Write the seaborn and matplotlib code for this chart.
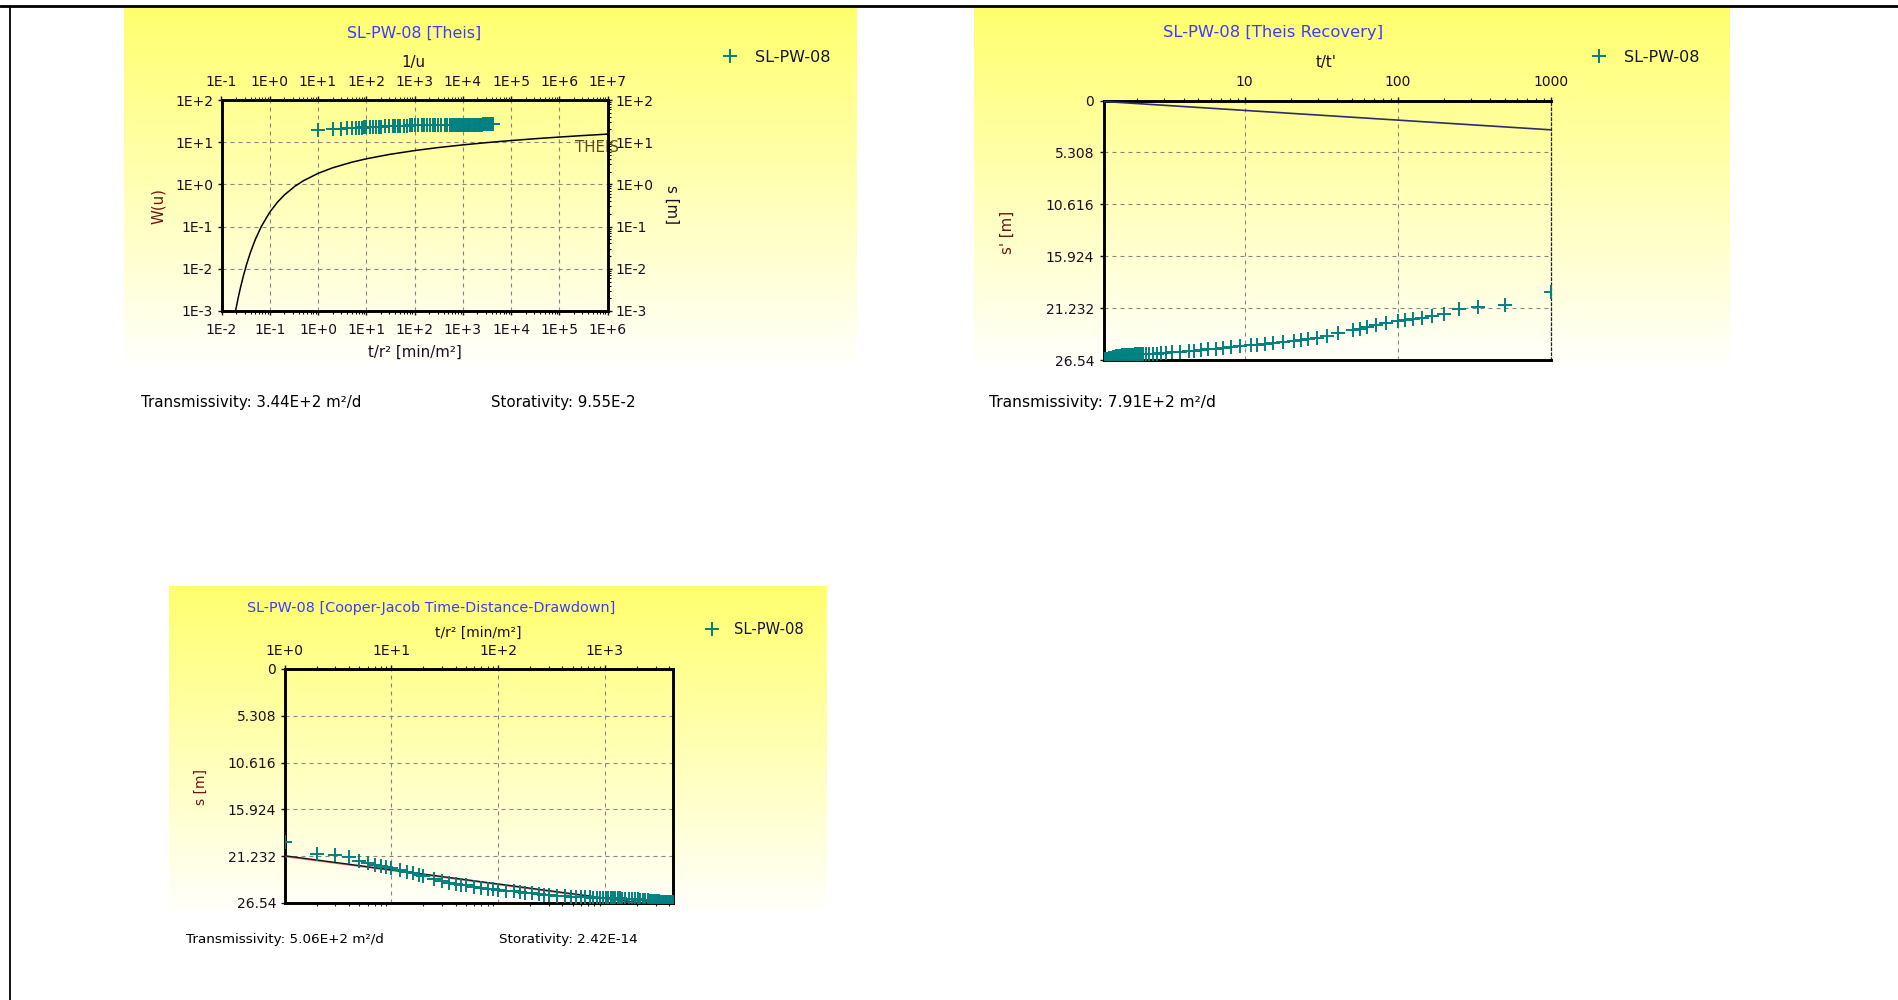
import numpy as np
import matplotlib
matplotlib.use("Agg")
import matplotlib.pyplot as plt
from matplotlib.lines import Line2D
from matplotlib.ticker import FixedLocator, NullFormatter, LogLocator
import seaborn as sns

# ---------------------------------------------------------------- data
# pumping test SL-PW-08: elapsed time over r^2 [min/m^2] and drawdown [m]
t_over_r2 = [1, 2, 3, 4, 5, 6, 7, 8, 9, 10,
             12, 14, 16, 18, 20, 25, 30, 35, 40, 45,
             50, 60, 70, 80, 90, 100, 120, 140, 160, 180,
             210, 240, 270, 300, 360, 420, 480, 540, 600, 660,
             720, 780, 840, 900, 960, 1020, 1080, 1140, 1200, 1260,
             1320, 1380, 1440, 1560, 1680, 1800, 1920, 2040, 2160, 2280,
             2400, 2520, 2640, 2760, 2880, 3000, 3120, 3240, 3360, 3480,
             3600, 3720, 3840, 3960, 4080, 4200, 4320]
drawdown = [19.63, 20.95, 21.10, 21.33, 21.80, 22.00, 22.20, 22.30, 22.46, 22.55,
            22.80, 23.00, 23.15, 23.35, 23.45, 23.80, 24.05, 24.25, 24.35, 24.45,
            24.55, 24.70, 24.85, 24.92, 24.98, 25.05, 25.15, 25.22, 25.30, 25.38,
            25.45, 25.52, 25.58, 25.62, 25.70, 25.76, 25.82, 25.85, 25.88, 25.90,
            25.91, 25.92, 25.93, 25.94, 25.95, 25.96, 25.97, 25.98, 25.99, 26.00,
            26.01, 26.02, 26.03, 26.05, 26.07, 26.09, 26.11, 26.13, 26.16, 26.19,
            26.22, 26.25, 26.27, 26.29, 26.31, 26.33, 26.34, 26.36, 26.37, 26.39,
            26.40, 26.41, 26.42, 26.43, 26.44, 26.45, 26.46]
# recovery ratio t/t' for the same readings
t_over_tprime = [1000, 500.5, 334, 250.8, 200.8, 167.5, 143.7, 125.9, 112, 100.9,
                 84.3, 72.4, 63.4, 56.5, 51.0, 41.0, 34.3, 29.5, 26.0, 23.2,
                 21.0, 17.7, 15.3, 13.5, 12.1, 11.0, 9.33, 8.14, 7.24, 6.55,
                 5.76, 5.16, 4.70, 4.33, 3.78, 3.38, 3.08, 2.85, 2.67, 2.51,
                 2.39, 2.28, 2.19, 2.11, 2.04, 1.98, 1.93, 1.88, 1.83, 1.79,
                 1.76, 1.72, 1.69, 1.64, 1.59, 1.555, 1.52, 1.49, 1.46, 1.44,
                 1.42, 1.40, 1.38, 1.36, 1.35, 1.33, 1.32, 1.31, 1.30, 1.287,
                 1.28, 1.27, 1.26, 1.25, 1.245, 1.238, 1.231]

# Theis type curve W(u) against 1/u
inv_u = [0.19, 0.2, 0.222, 0.25, 0.286, 0.333, 0.4, 0.5, 0.667, 1, 1.43, 2, 3.33, 5,
         10, 20, 50, 100, 300, 1000, 3000, 1e4, 3e4, 1e5, 3e5, 1e6, 3e6, 1e7]
w_u = [0.00087, 0.00115, 0.00207, 0.00378, 0.00697, 0.01305, 0.0249, 0.0489, 0.100,
       0.219, 0.374, 0.560, 0.906, 1.223, 1.823, 2.468, 3.355, 4.038, 5.127, 6.332,
       7.43, 8.633, 9.73, 10.94, 12.04, 13.24, 14.34, 15.54]

# fitted straight lines
recovery_fit_x = [1.21, 1000]
recovery_fit_y = [0.10, 3.00]
cj_fit_x = [1, 4320]
cj_fit_y = [21.18, 26.99]
cj_fit_alt_y = [21.26, 27.07]

theis_xticks = [1e-2, 1e-1, 1e0, 1e1, 1e2, 1e3, 1e4, 1e5, 1e6]
theis_xlabels = ["1E-2", "1E-1", "1E+0", "1E+1", "1E+2", "1E+3", "1E+4", "1E+5", "1E+6"]
theis_top_ticks = [1e-1, 1e0, 1e1, 1e2, 1e3, 1e4, 1e5, 1e6, 1e7]
theis_top_labels = ["1E-1", "1E+0", "1E+1", "1E+2", "1E+3", "1E+4", "1E+5", "1E+6", "1E+7"]
theis_yticks = [1e-3, 1e-2, 1e-1, 1e0, 1e1, 1e2]
theis_ylabels = ["1E-3", "1E-2", "1E-1", "1E+0", "1E+1", "1E+2"]
s_ticks = [0, 5.308, 10.616, 15.924, 21.232, 26.54]
s_labels = ["0", "5.308", "10.616", "15.924", "21.232", "26.54"]
recovery_xticks = [10, 100, 1000]
recovery_xlabels = ["10", "100", "1000"]
cj_xticks = [1, 10, 100, 1000]
cj_xlabels = ["1E+0", "1E+1", "1E+2", "1E+3"]

# ---------------------------------------------------------------- style
sns.set_style("white")
plt.rcParams["font.family"] = ["DejaVu Sans"]

W_PX, H_PX = 1898, 1000
TEAL = "#008080"
TICK_C = "#1e0c1e"
TITLE_C = "#3c3cff"
YLAB_C = "#6e1414"
GRID_KW = dict(color="#858585", linewidth=0.8, linestyle=(0, (3.6, 3.6)))
FS_TICK = 10
FS_TEXT = 10.8
FS_LEG = 11.5
SPINE_W = 2.1

fig = plt.figure(figsize=(W_PX / 100, H_PX / 100), dpi=100)
fig.patch.set_facecolor("white")


def fx(x):
    return x / W_PX


def fy(y):
    return 1 - y / H_PX


def box(x0, y0, x1, y1):
    return [fx(x0), fy(y1), (x1 - x0) / W_PX, (y1 - y0) / H_PX]


def panel_background(x0, y0, x1, y1):
    bg = fig.add_axes(box(x0, y0, x1, y1), zorder=0)
    frac = np.linspace(0, 1, 256)[:, None, None]
    top = np.array([1.0, 1.0, 0.43])
    bottom = np.array([1.0, 1.0, 0.985])
    bg.imshow(top + (bottom - top) * frac, aspect="auto", extent=[0, 1, 0, 1],
              interpolation="bilinear")
    bg.axis("off")


def text(x, y, s, **kw):
    kw.setdefault("fontsize", FS_TEXT)
    kw.setdefault("color", "black")
    fig.text(fx(x), fy(y), s, **kw)


def style_spines(ax, right_style="solid"):
    for side in ("left", "bottom", "top"):
        ax.spines[side].set_linewidth(SPINE_W)
        ax.spines[side].set_color("black")
    if right_style == "solid":
        ax.spines["right"].set_linewidth(SPINE_W)
        ax.spines["right"].set_color("black")
    else:
        ax.spines["right"].set_linewidth(0.9)
        ax.spines["right"].set_color("#202020")
        ax.spines["right"].set_linestyle((0, (2, 2)))


def legend_at(ax, handle, x, y, size=FS_LEG, gap=1.05):
    ax.legend([handle], ["SL-PW-08"], loc="center left",
              bbox_to_anchor=(fx(x), fy(y)), bbox_transform=fig.transFigure,
              frameon=False, handlelength=1.0, handletextpad=gap, borderpad=0,
              borderaxespad=0, fontsize=size, labelcolor="#141430")


plus_handle = Line2D([], [], marker="+", linestyle="", color=TEAL,
                     markersize=9.4, markeredgewidth=1.4)

# ---------------------------------------------------------------- panel 1: Theis
panel_background(124, 8, 857, 363)
ax1 = fig.add_axes(box(221.5, 100, 607.5, 311), zorder=1)
ax1.patch.set_alpha(0)
ax1.set_xscale("log")
ax1.set_yscale("log")
ax1.set_xlim(1e-2, 1e6)
ax1.set_ylim(1e-3, 1e2)
ax1.set_axisbelow(True)
ax1.grid(True, which="major", **GRID_KW)
sns.scatterplot(x=t_over_r2, y=drawdown, marker="+", s=92, linewidth=1.4,
                color=TEAL, ax=ax1, legend=False, zorder=3)
ax1.xaxis.set_major_locator(FixedLocator(theis_xticks))
ax1.set_xticklabels(theis_xlabels)
ax1.yaxis.set_major_locator(FixedLocator(theis_yticks))
ax1.set_yticklabels(theis_ylabels)
ax1.xaxis.set_minor_locator(LogLocator(base=10, subs=np.arange(2, 10), numticks=20))
ax1.yaxis.set_minor_locator(LogLocator(base=10, subs=np.arange(2, 10), numticks=20))
ax1.xaxis.set_minor_formatter(NullFormatter())
ax1.yaxis.set_minor_formatter(NullFormatter())
ax1.tick_params(axis="x", which="major", direction="out", length=3, width=1,
                pad=6, labelsize=FS_TICK, colors=TICK_C)
ax1.tick_params(axis="y", which="major", direction="out", length=3, width=1,
                left=True, right=True, labelleft=True, labelright=True,
                pad=3, labelsize=FS_TICK, colors=TICK_C)
ax1.tick_params(which="minor", direction="out", length=2, width=0.8, colors="black",
                left=False, right=True)
ax1.set_xlabel("")
ax1.set_ylabel("")
style_spines(ax1)
ax1.text(fx(575), fy(147), "THEIS", transform=fig.transFigure, fontsize=FS_TEXT,
         color="#5c4a1e", va="center", ha="left", zorder=2, clip_on=False)

ax1t = ax1.twiny()
ax1t.set_xscale("log")
ax1t.set_xlim(1e-1, 1e7)
ax1t.patch.set_alpha(0)
for sp in ax1t.spines.values():
    sp.set_visible(False)
sns.lineplot(x=inv_u, y=w_u, color="black", linewidth=1.1, ax=ax1t,
             estimator=None, sort=False)
ax1t.set_ylim(1e-3, 1e2)
ax1t.xaxis.set_major_locator(FixedLocator(theis_top_ticks))
ax1t.set_xticklabels(theis_top_labels)
ax1t.xaxis.set_minor_locator(LogLocator(base=10, subs=np.arange(2, 10), numticks=20))
ax1t.xaxis.set_minor_formatter(NullFormatter())
ax1t.tick_params(axis="x", which="major", direction="out", length=3, width=1,
                 pad=5, labelsize=FS_TICK, colors=TICK_C)
ax1t.tick_params(axis="x", which="minor", direction="out", length=2, width=0.8)
ax1t.set_xlabel("")
ax1t.set_ylabel("")

text(414.5, 33, "SL-PW-08 [Theis]", ha="center", va="center", color=TITLE_C,
     fontsize=11.4)
text(413.5, 62, "1/u", ha="center", va="center", color=TICK_C)
text(415, 352, "t/r² [min/m²]", ha="center", va="center", color=TICK_C)
text(158, 206, "W(u)", ha="center", va="center", rotation=90, color=YLAB_C)
text(672, 205, "s [m]", ha="center", va="center", rotation=270, color=TICK_C)
legend_at(ax1t, plus_handle, 722, 57)
text(141, 402, "Transmissivity: 3.44E+2 m²/d", ha="left", va="center")
text(491, 402, "Storativity: 9.55E-2", ha="left", va="center")

# ---------------------------------------------------------------- panel 2: Theis recovery
panel_background(974, 8, 1729, 363)
ax2 = fig.add_axes(box(1104, 100.5, 1551, 360), zorder=1)
ax2.patch.set_alpha(0)
ax2.set_xscale("log")
ax2.set_xlim(1.21, 1000)
ax2.set_ylim(26.54, 0)
ax2.set_axisbelow(True)
ax2.grid(True, which="major", **GRID_KW)
sns.lineplot(x=recovery_fit_x, y=recovery_fit_y, color="#2d2d6e", linewidth=1.2,
             ax=ax2, estimator=None, sort=False, zorder=3)
sns.scatterplot(x=t_over_tprime, y=drawdown, marker="+", s=92, linewidth=1.4,
                color=TEAL, ax=ax2, legend=False, zorder=3)
ax2.xaxis.set_major_locator(FixedLocator(recovery_xticks))
ax2.set_xticklabels(recovery_xlabels)
ax2.xaxis.set_minor_locator(LogLocator(base=10, subs=np.arange(2, 10), numticks=20))
ax2.xaxis.set_minor_formatter(NullFormatter())
ax2.yaxis.set_major_locator(FixedLocator(s_ticks))
ax2.set_yticklabels(s_labels)
ax2.xaxis.tick_top()
ax2.tick_params(axis="x", which="major", direction="out", length=3, width=1,
                top=True, bottom=False, labeltop=True, labelbottom=False,
                pad=5, labelsize=FS_TICK, colors=TICK_C)
ax2.tick_params(axis="x", which="minor", direction="out", length=2, width=0.8,
                top=True, bottom=False)
ax2.tick_params(axis="y", which="major", direction="out", length=3, width=1,
                left=True, right=False, pad=4, labelsize=FS_TICK, colors=TICK_C)
ax2.set_xlabel("")
ax2.set_ylabel("")
style_spines(ax2, right_style="dashed")

text(1273, 33, "SL-PW-08 [Theis Recovery]", ha="center", va="center", color=TITLE_C,
     fontsize=11.8)
text(1326, 62, "t/t'", ha="center", va="center", color=TICK_C)
text(1007, 232, "s' [m]", ha="center", va="center", rotation=90, color=YLAB_C)
legend_at(ax2, plus_handle, 1591, 57)
text(989, 402, "Transmissivity: 7.91E+2 m²/d", ha="left", va="center", fontsize=11.2)

# ---------------------------------------------------------------- panel 3: Cooper-Jacob
panel_background(169, 586, 827, 910)
ax3 = fig.add_axes(box(284.5, 669, 672.6, 903), zorder=1)
ax3.patch.set_alpha(0)
ax3.set_xscale("log")
ax3.set_xlim(1, 4320)
ax3.set_ylim(26.54, 0)
ax3.set_axisbelow(True)
ax3.grid(True, which="major", **GRID_KW)
sns.lineplot(x=cj_fit_x, y=cj_fit_alt_y, color="#e07070", linewidth=1.0,
             ax=ax3, estimator=None, sort=False, zorder=3)
sns.lineplot(x=cj_fit_x, y=cj_fit_y, color="#151515", linewidth=1.0,
             ax=ax3, estimator=None, sort=False, zorder=3)
sns.scatterplot(x=t_over_r2, y=drawdown, marker="+", s=92, linewidth=1.4,
                color=TEAL, ax=ax3, legend=False, zorder=4)
ax3.xaxis.set_major_locator(FixedLocator(cj_xticks))
ax3.set_xticklabels(cj_xlabels)
ax3.xaxis.set_minor_locator(LogLocator(base=10, subs=np.arange(2, 10), numticks=20))
ax3.xaxis.set_minor_formatter(NullFormatter())
ax3.yaxis.set_major_locator(FixedLocator(s_ticks))
ax3.set_yticklabels(s_labels)
ax3.tick_params(axis="x", which="major", direction="out", length=3, width=1,
                top=True, bottom=False, labeltop=True, labelbottom=False,
                pad=5, labelsize=FS_TICK, colors=TICK_C)
ax3.tick_params(axis="x", which="minor", direction="out", length=2, width=0.8,
                top=True, bottom=True)
ax3.tick_params(axis="y", which="major", direction="out", length=3, width=1,
                left=True, right=False, pad=3, labelsize=FS_TICK, colors=TICK_C)
ax3.set_xlabel("")
ax3.set_ylabel("")
style_spines(ax3)

text(431, 608, "SL-PW-08 [Cooper-Jacob Time-Distance-Drawdown]", ha="center",
     va="center", color=TITLE_C, fontsize=10.4)
text(478, 633, "t/r² [min/m²]", ha="center", va="center", color=TICK_C, fontsize=10)
text(201, 787, "s [m]", ha="center", va="center", rotation=90, color=YLAB_C, fontsize=10)
legend_at(ax3, plus_handle, 705, 630, size=10.6, gap=0.95)
text(186, 939, "Transmissivity: 5.06E+2 m²/d", ha="left", va="center", fontsize=9.7)
text(499, 939, "Storativity: 2.42E-14", ha="left", va="center", fontsize=9.7)

# ---------------------------------------------------------------- page frame
fig.add_artist(Line2D([0, 1], [fy(5.5), fy(5.5)], transform=fig.transFigure,
                      color="black", linewidth=2.0))
fig.add_artist(Line2D([fx(9.7), fx(9.7)], [fy(5.5), 0], transform=fig.transFigure,
                      color="black", linewidth=1.3))

fig.savefig("out.png", dpi=100, facecolor="white")
